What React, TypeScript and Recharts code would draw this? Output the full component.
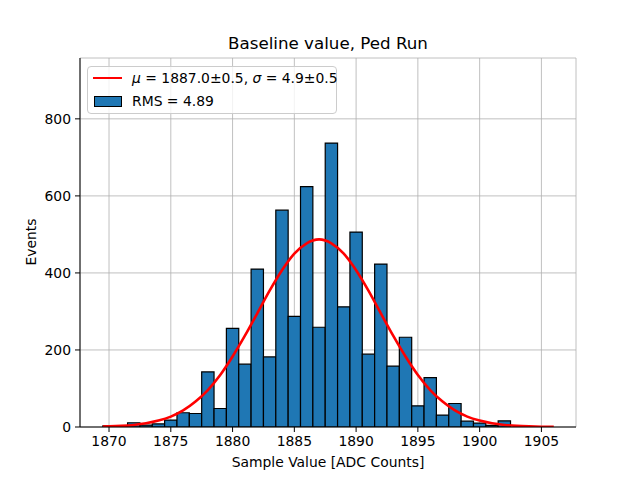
import React from 'react';
import {
  ComposedChart,
  Bar,
  Line,
  XAxis,
  YAxis,
  CartesianGrid,
  Legend,
  Label,
} from 'recharts';

// histogram bins (ADC counts), one count per integer value
const binCenters = [
  1870, 1871, 1872, 1873, 1874, 1875, 1876, 1877, 1878, 1879, 1880, 1881, 1882,
  1883, 1884, 1885, 1886, 1887, 1888, 1889, 1890, 1891, 1892, 1893, 1894, 1895,
  1896, 1897, 1898, 1899, 1900, 1901, 1902,
];
const binCounts = [
  3, 1, 11, 5, 8, 18, 37, 35, 143, 48, 256, 163, 410, 182, 563, 287, 624, 259,
  737, 312, 506, 189, 423, 158, 233, 55, 128, 31, 61, 15, 10, 4, 16,
];

// gaussian fit curve
const fitX = [
  1869.5, 1870, 1871, 1872, 1873, 1874, 1875, 1876, 1877, 1878, 1879, 1880,
  1881, 1882, 1883, 1884, 1885, 1886, 1887, 1888, 1889, 1890, 1891, 1892, 1893,
  1894, 1895, 1896, 1897, 1898, 1899, 1900, 1901, 1902, 1903, 1904, 1905, 1906,
];
const fitY = [
  1.1, 1.5, 2.9, 5.4, 9.7, 16.6, 27, 43, 66, 96, 135, 183, 237, 295, 354, 407,
  450, 477, 487, 477, 450, 407, 354, 295, 237, 183, 135, 96, 66, 43, 27, 16.6,
  9.7, 5.4, 2.9, 1.5, 0.7, 0.4,
];

const xTicks = [1870, 1875, 1880, 1885, 1890, 1895, 1900, 1905];
const yTicks = [0, 200, 400, 600, 800];
const xDomain = [1867.65, 1907.8];
const yDomain = [0, 958];

const histData = binCenters.map((x, i) => ({ x, count: binCounts[i] }));
const fitData = fitX.map((x, i) => ({ x, fit: fitY[i] }));

const FONT = '"DejaVu Sans", sans-serif';
const tickStyle = { fill: '#000', fontSize: 13.9, fontFamily: FONT };

const renderLegend = () => (
  <div
    style={{
      width: 250,
      height: 48,
      border: '1px solid #cccccc',
      borderRadius: 4,
      background: 'rgba(255,255,255,0.8)',
      fontFamily: FONT,
      fontSize: 13.9,
      color: '#000',
      boxSizing: 'border-box',
      whiteSpace: 'nowrap',
      lineHeight: '16px',
    }}
  >
    <div style={{ display: 'flex', alignItems: 'center', height: 20, marginTop: 1 }}>
      <span
        style={{
          display: 'inline-block',
          flex: 'none',
          width: 29,
          height: 2.6,
          background: 'red',
          marginLeft: 5,
          marginRight: 10,
        }}
      />
      <span>
        <i>μ</i> = 1887.0±0.5, <i>σ</i> = 4.9±0.5
      </span>
    </div>
    <div style={{ display: 'flex', alignItems: 'center', height: 26 }}>
      <span
        style={{
          display: 'inline-block',
          flex: 'none',
          width: 26,
          height: 9,
          background: '#1f77b4',
          border: '1px solid #000',
          marginLeft: 6,
          marginRight: 10,
        }}
      />
      <span>RMS = 4.89</span>
    </div>
  </div>
);

export default function App() {
  return (
    <div style={{ position: 'absolute', left: 0, top: 0, width: 640, height: 480, background: '#fff' }}>
      <div
        style={{
          position: 'absolute',
          left: 0,
          top: 33,
          width: 656,
          textAlign: 'center',
          fontFamily: FONT,
          fontSize: 16.7,
          lineHeight: '20px',
          color: '#000',
        }}
      >
        Baseline value, Ped Run
      </div>
      <ComposedChart
        width={640}
        height={480}
        data={histData}
        margin={{ top: 58, right: 64, bottom: 0, left: 0 }}
      >
        <XAxis
          dataKey="x"
          type="number"
          domain={xDomain}
          ticks={xTicks}
          interval={0}
          allowDataOverflow
          height={53}
          tick={tickStyle}
          tickSize={5}
          tickMargin={4}
          axisLine={{ stroke: '#000' }}
          tickLine={{ stroke: '#000' }}
        >
          <Label
            content={() => (
              <text x={328} y={467} textAnchor="middle" fontSize={13.9} fontFamily={FONT} fill="#000">
                Sample Value [ADC Counts]
              </text>
            )}
          />
        </XAxis>
        <XAxis xAxisId="fit" dataKey="x" type="number" domain={xDomain} allowDataOverflow hide />
        <XAxis
          xAxisId="top"
          orientation="top"
          type="number"
          domain={xDomain}
          allowDataOverflow
          height={0}
          tick={false}
          tickLine={false}
          axisLine={{ stroke: '#000' }}
        />
        <YAxis
          type="number"
          domain={yDomain}
          ticks={yTicks}
          interval={0}
          allowDataOverflow
          width={80}
          tick={tickStyle}
          tickSize={5}
          tickMargin={4}
          axisLine={{ stroke: '#000' }}
          tickLine={{ stroke: '#000' }}
        >
          <Label
            content={() => (
              <text
                x={36}
                y={242}
                transform="rotate(-90 36 242)"
                textAnchor="middle"
                fontSize={13.9}
                fontFamily={FONT}
                fill="#000"
              >
                Events
              </text>
            )}
          />
        </YAxis>
        <YAxis
          yAxisId="right"
          orientation="right"
          type="number"
          domain={yDomain}
          allowDataOverflow
          width={0}
          tick={false}
          tickLine={false}
          axisLine={{ stroke: '#000' }}
        />
        <Bar
          dataKey="count"
          fill="#1f77b4"
          stroke="#000"
          strokeWidth={1.2}
          barSize={12.35}
          isAnimationActive={false}
        />
        <CartesianGrid stroke="#b0b0b0" strokeWidth={0.8} />
        <Line
          xAxisId="fit"
          data={fitData}
          dataKey="fit"
          type="monotone"
          stroke="red"
          strokeWidth={2.6}
          dot={false}
          activeDot={false}
          isAnimationActive={false}
        />
        <Legend
          layout="vertical"
          align="center"
          verticalAlign="middle"
          content={renderLegend}
          wrapperStyle={{ position: 'absolute', left: 87, top: 66, width: 250, height: 48 }}
        />
      </ComposedChart>
    </div>
  );
}
